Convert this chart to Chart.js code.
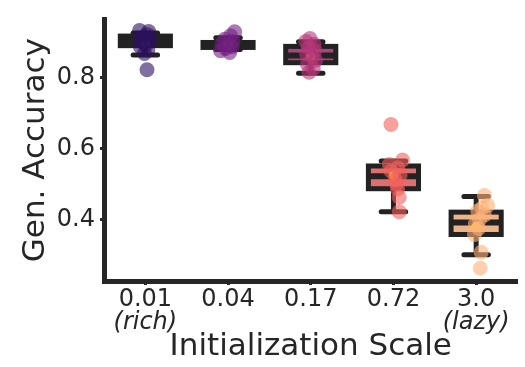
<!DOCTYPE html>
<html>
<head>
<meta charset="utf-8">
<script src="https://cdn.jsdelivr.net/npm/chart.js@4.4.1/dist/chart.umd.min.js"></script>
<style>
  html, body { margin: 0; padding: 0; background: #fff; }
  #wrap { width: 525px; height: 367px; }
</style>
</head>
<body>
<div id="wrap"><canvas id="acc"></canvas></div>
<script>
// categories
var scaleLabels = ['0.01', '0.04', '0.17', '0.72', '3.0'];
var subLabels = ['(rich)', '', '', '', '(lazy)'];
var yTicks = [0.4, 0.6, 0.8];

// box stats per init scale
var whiskLow  = [0.864, 0.879, 0.812, 0.422, 0.301];
var q1        = [0.890, 0.885, 0.842, 0.487, 0.358];
var median    = [0.905, 0.892, 0.862, 0.522, 0.392];
var q3        = [0.917, 0.899, 0.888, 0.551, 0.421];
var whiskHigh = [0.926, 0.912, 0.901, 0.565, 0.465];
var means     = [0.895, 0.894, 0.860, 0.525, 0.380];

// individual runs (gen. accuracy) and their horizontal jitter
var runs = [
  [0.933, 0.930, 0.921, 0.912, 0.905, 0.899, 0.893, 0.887, 0.878, 0.868, 0.822],
  [0.929, 0.918, 0.908, 0.902, 0.897, 0.892, 0.887, 0.882, 0.876, 0.871],
  [0.910, 0.902, 0.894, 0.885, 0.876, 0.867, 0.858, 0.849, 0.838, 0.825, 0.815],
  [0.668, 0.568, 0.555, 0.546, 0.537, 0.525, 0.512, 0.500, 0.486, 0.463, 0.422],
  [0.468, 0.440, 0.432, 0.424, 0.413, 0.400, 0.388, 0.375, 0.358, 0.308, 0.263]
];
var jitter = [
  [-0.07, 0.04, 0.02, -0.05, 0.06, -0.03, 0.01, -0.06, 0.03, -0.01, 0.02],
  [0.08, 0.03, -0.04, 0.06, -0.07, 0.01, 0.05, -0.03, -0.09, 0.02],
  [-0.01, -0.06, 0.04, -0.03, 0.05, -0.05, 0.02, 0.06, -0.04, 0.03, -0.02],
  [-0.03, 0.11, -0.05, 0.05, -0.03, 0.08, 0.02, 0.04, 0.05, 0.07, 0.07],
  [0.10, 0.14, 0.07, 0.02, 0.10, 0.04, -0.01, 0.03, -0.02, 0.06, 0.05]
];

var pointColors = ['rgba(44,17,95,0.6)', 'rgba(114,31,129,0.6)', 'rgba(183,55,121,0.6)', 'rgba(241,96,93,0.6)', 'rgba(254,176,120,0.6)'];
var boxFill = ['#2f1b55', '#6a2b75', '#a74779', '#de6f6f', '#edb389'];
var ink = '#262626';

var boxPlugin = {
  id: 'boxes',
  beforeDatasetsDraw: function(chart) {
    var ctx = chart.ctx, xs = chart.scales.x, ys = chart.scales.y;
    ctx.save();
    ctx.strokeStyle = '#222';
    ctx.lineWidth = 5;
    for (var i = 0; i < scaleLabels.length; i++) {
      var cx = xs.getPixelForValue(i);
      var bl = xs.getPixelForValue(i - 0.303), br = xs.getPixelForValue(i + 0.303);
      var cl = xs.getPixelForValue(i - 0.148), cr = xs.getPixelForValue(i + 0.148);
      // whiskers + caps
      ctx.lineCap = 'round';
      ctx.beginPath();
      ctx.moveTo(cx, ys.getPixelForValue(whiskLow[i]));
      ctx.lineTo(cx, ys.getPixelForValue(whiskHigh[i]));
      ctx.moveTo(cl, ys.getPixelForValue(whiskLow[i]));
      ctx.lineTo(cr, ys.getPixelForValue(whiskLow[i]));
      ctx.moveTo(cl, ys.getPixelForValue(whiskHigh[i]));
      ctx.lineTo(cr, ys.getPixelForValue(whiskHigh[i]));
      ctx.stroke();
      // box
      ctx.lineCap = 'butt';
      var top = ys.getPixelForValue(q3[i]), bot = ys.getPixelForValue(q1[i]);
      ctx.fillStyle = boxFill[i];
      ctx.fillRect(bl, top, br - bl, bot - top);
      ctx.strokeRect(bl, top, br - bl, bot - top);
      // median
      var my = ys.getPixelForValue(median[i]);
      ctx.lineWidth = 6;
      ctx.beginPath();
      ctx.moveTo(bl, my);
      ctx.lineTo(br, my);
      ctx.stroke();
      ctx.lineWidth = 5;
    }
    ctx.restore();
  },
  afterDraw: function(chart) {
    var ctx = chart.ctx, xs = chart.scales.x;
    ctx.save();
    ctx.font = 'italic 24px "DejaVu Sans"';
    ctx.fillStyle = ink;
    ctx.textAlign = 'center';
    ctx.textBaseline = 'middle';
    subLabels.forEach(function(s, i) {
      if (s) ctx.fillText(s, xs.getPixelForValue(i), 323);
    });
    ctx.restore();
  }
};

var datasets = runs.map(function(vals, g) {
  return {
    data: vals.map(function(v, k) { return { x: g + jitter[g][k], y: v }; }),
    backgroundColor: pointColors[g],
    borderWidth: 0,
    pointRadius: 7.5
  };
});
datasets.push({
  data: means.map(function(v, i) { return { x: i, y: v }; }),
  backgroundColor: '#ffff00',
  borderColor: '#f5d800',
  borderWidth: 0.5,
  pointRadius: 4.5
});

new Chart(document.getElementById('acc'), {
  type: 'scatter',
  data: { datasets: datasets },
  plugins: [boxPlugin],
  options: {
    responsive: true,
    maintainAspectRatio: false,
    animation: false,
    layout: { padding: { top: 12, right: 0, left: 0, bottom: 0 } },
    plugins: { legend: { display: false }, tooltip: { enabled: false } },
    scales: {
      x: {
        type: 'linear',
        min: -0.5,
        max: 4.5,
        afterBuildTicks: function(s) { s.ticks = scaleLabels.map(function(_, i) { return { value: i }; }); },
        afterFit: function(s) { s.height = 86; },
        ticks: {
          autoSkip: false,
          maxRotation: 0,
          padding: 0,
          color: ink,
          font: { family: 'DejaVu Sans', size: 24 },
          callback: function(v) { return scaleLabels[v]; }
        },
        grid: { display: true, drawOnChartArea: false, drawTicks: true, tickLength: 4, tickWidth: 3, tickColor: ink },
        border: { display: true, width: 5, color: ink },
        title: {
          display: true,
          text: 'Initialization Scale',
          color: ink,
          font: { family: 'DejaVu Sans', size: 31 },
          padding: { top: 0, bottom: 1 }
        }
      },
      y: {
        min: 0.227,
        max: 0.964,
        afterBuildTicks: function(s) { s.ticks = yTicks.map(function(v) { return { value: v }; }); },
        afterFit: function(s) { s.width = 104; },
        ticks: {
          padding: 5,
          color: ink,
          font: { family: 'DejaVu Sans', size: 24 },
          callback: function(v) { return v.toFixed(1); }
        },
        grid: { display: true, drawOnChartArea: false, drawTicks: true, tickLength: 4, tickWidth: 3, tickColor: ink },
        border: { display: true, width: 5, color: ink },
        title: {
          display: true,
          text: 'Gen. Accuracy',
          color: ink,
          font: { family: 'DejaVu Sans', size: 31 },
          padding: { top: 17, bottom: 0 }
        }
      }
    }
  }
});
</script>
</body>
</html>
